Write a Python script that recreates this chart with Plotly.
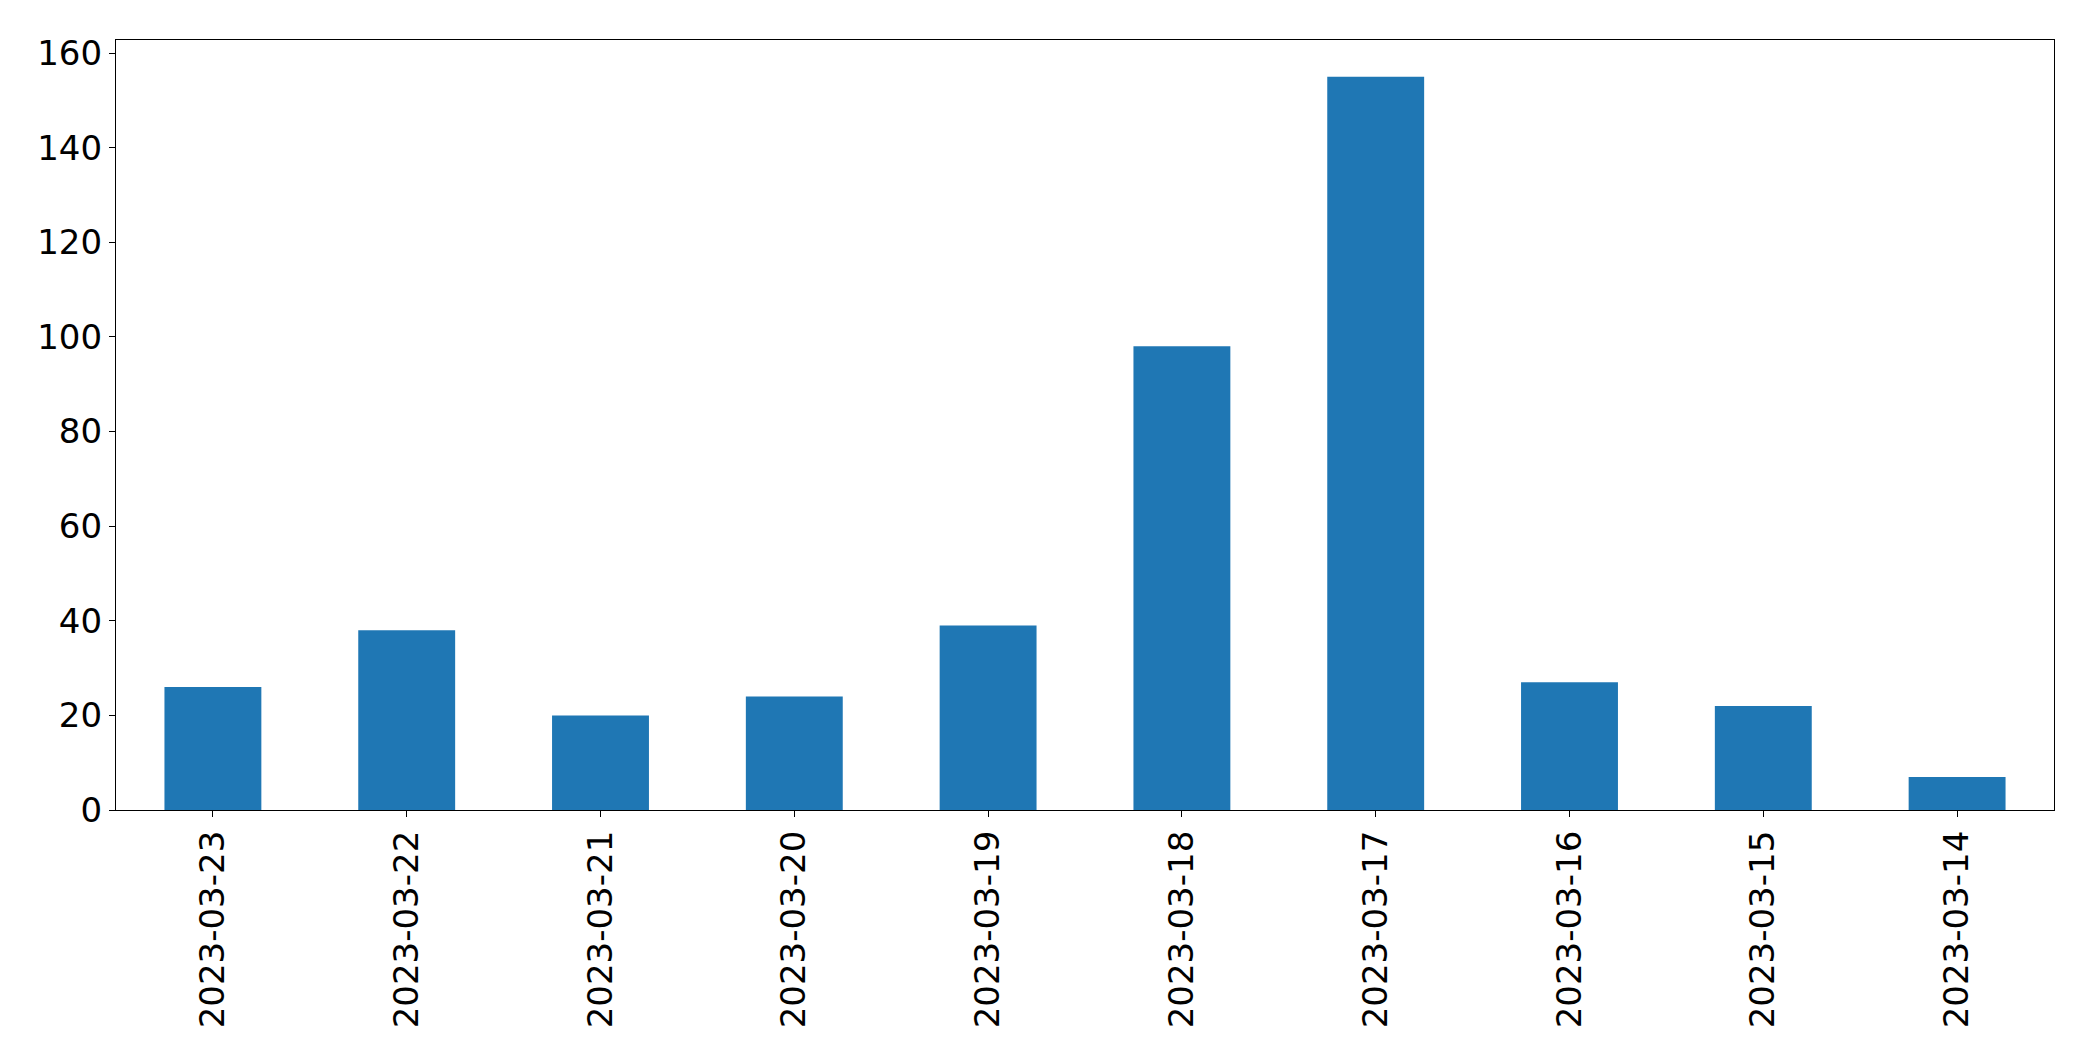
import plotly.graph_objects as go

dates = ["2023-03-23", "2023-03-22", "2023-03-21", "2023-03-20", "2023-03-19",
         "2023-03-18", "2023-03-17", "2023-03-16", "2023-03-15", "2023-03-14"]
counts = [26, 38, 20, 24, 39, 98, 155, 27, 22, 7]
y_ticks = [0, 20, 40, 60, 80, 100, 120, 140, 160]

fig = go.Figure(go.Bar(x=dates, y=counts, width=0.5, marker=dict(color="#1f77b4", line=dict(width=0))))

font = dict(family="DejaVu Sans", size=34, color="black")
axis_common = dict(showline=True, linecolor="black", linewidth=1.3, mirror=True,
                   ticks="outside", ticklen=6, tickwidth=1.3, tickcolor="black",
                   showgrid=False, zeroline=False, tickfont=font)

fig.update_layout(
    width=2093, height=1062,
    margin=dict(l=116, r=39, t=40, b=252),
    paper_bgcolor="white", plot_bgcolor="white",
    showlegend=False,
    xaxis=dict(type="category", range=[-0.5, 9.5], tickangle=-90, **axis_common),
    yaxis=dict(range=[0, 162.75], tickvals=y_ticks, **axis_common),
)

fig.write_html("out.html", config={"displayModeBar": False},
               post_script="document.body.style.margin='0';document.body.style.overflow='hidden';")
